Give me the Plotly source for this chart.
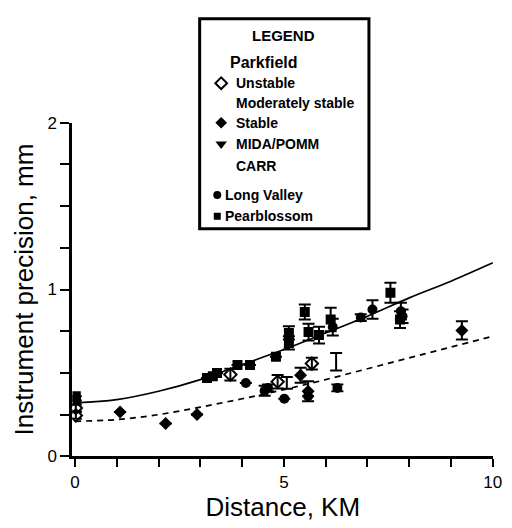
import plotly.graph_objects as go

# ---------------- data ----------------
curve_x = [0, 1, 2, 3, 4, 5, 6, 7, 8, 9, 10]
upper_curve = [0.32, 0.34, 0.39, 0.46, 0.55, 0.64, 0.74, 0.84, 0.95, 1.05, 1.16]
lower_curve = [0.21, 0.22, 0.25, 0.295, 0.345, 0.40, 0.46, 0.525, 0.59, 0.655, 0.72]

unstable_x = [0.02, 0.02, 3.72, 4.85, 5.67]
unstable_y = [0.29, 0.245, 0.49, 0.447, 0.556]
unstable_err = [0.02, 0.02, 0.035, 0.04, 0.035]

moderate_x = [5.07, 6.25]
moderate_y = [0.44, 0.567]
moderate_err = [0.035, 0.053]

stable_x = [1.08, 2.17, 2.92, 5.40, 5.58, 9.26]
stable_y = [0.266, 0.197, 0.25, 0.486, 0.39, 0.755]
stable_err = [0, 0, 0, 0.045, 0.06, 0.055]

mida_x = []
mida_y = []
carr_x = []
carr_y = []

longvalley_x = [4.09, 4.54, 4.62, 5.01, 5.58, 6.17, 6.28, 6.84, 7.12, 7.80, 7.84]
longvalley_y = [0.44, 0.393, 0.41, 0.345, 0.36, 0.775, 0.41, 0.832, 0.88, 0.87, 0.84]
longvalley_err = [0, 0.03, 0.02, 0, 0, 0.05, 0.02, 0.02, 0.055, 0.05, 0.04]

pearblossom_x = [0.02, 0.02, 3.16, 3.30, 3.40, 3.89, 4.19, 4.81, 5.12, 5.12,
                 5.50, 5.59, 5.84, 6.12, 7.55, 7.78]
pearblossom_y = [0.335, 0.36, 0.47, 0.48, 0.50, 0.547, 0.547, 0.597, 0.68, 0.74,
                 0.865, 0.745, 0.727, 0.82, 0.98, 0.82]
pearblossom_err = [0, 0, 0, 0, 0, 0, 0, 0, 0.04, 0.04,
                   0.045, 0.05, 0.05, 0.07, 0.06, 0.05]

legend_title = "LEGEND"
legend_group = "Parkfield"
legend_labels = ["Unstable", "Moderately stable", "Stable", "MIDA/POMM", "CARR",
                 "Long Valley", "Pearblossom"]

x_ticks = [0, 5, 10]
y_ticks = [0, 1, 2]

# ---------------- figure ----------------
W, H = 512, 528
FONT = "Liberation Sans, Arial, Helvetica, sans-serif"
fig = go.Figure()


def err(a):
    return dict(type="data", array=a, color="black", thickness=2, width=6, visible=True)


fig.add_trace(go.Scatter(x=curve_x, y=upper_curve, mode="lines", line_shape="spline",
                         line=dict(color="black", width=1.7), hoverinfo="skip"))
fig.add_trace(go.Scatter(x=curve_x, y=lower_curve, mode="lines", line_shape="spline",
                         line=dict(color="black", width=1.7, dash="6px,5px"), hoverinfo="skip"))

fig.add_trace(go.Scatter(x=moderate_x, y=moderate_y, mode="markers", error_y=err(moderate_err),
                         marker=dict(size=2, color="rgba(0,0,0,0)")))
fig.add_trace(go.Scatter(x=stable_x, y=stable_y, mode="markers", error_y=err(stable_err),
                         marker=dict(symbol="diamond", size=10, color="black")))
fig.add_trace(go.Scatter(x=mida_x, y=mida_y, mode="markers",
                         marker=dict(symbol="triangle-down", size=10, color="black")))
fig.add_trace(go.Scatter(x=carr_x, y=carr_y, mode="markers",
                         marker=dict(size=2, color="rgba(0,0,0,0)")))
fig.add_trace(go.Scatter(x=longvalley_x, y=longvalley_y, mode="markers", error_y=err(longvalley_err),
                         marker=dict(symbol="circle", size=10, color="black")))
fig.add_trace(go.Scatter(x=pearblossom_x, y=pearblossom_y, mode="markers", error_y=err(pearblossom_err),
                         marker=dict(symbol="square", size=10, color="black")))
fig.add_trace(go.Scatter(x=unstable_x, y=unstable_y, mode="markers", error_y=err(unstable_err),
                         marker=dict(symbol="diamond-open", size=9.5, color="black",
                                     line=dict(width=2, color="black"))))

# ---------------- legend (drawn in a pixel overlay) ----------------
key_symbols = ["diamond-open", None, "diamond", "triangle-down", None, "circle", "square"]
key_sizes = [9, 0, 9, 10, 0, 8, 7]
key_rows = [77, 98, 118, 140, 163, 193, 215]
key_sym_x = [224, None, 224, 224, None, 220, 220]
key_text_x = [237, 237, 237, 237, 237, 226, 226]

for sym, size, row, sx in zip(key_symbols, key_sizes, key_rows, key_sym_x):
    if sym is None:
        continue
    fig.add_trace(go.Scatter(x=[sx], y=[row], xaxis="x2", yaxis="y2", mode="markers",
                             marker=dict(symbol=sym, size=size, color="black",
                                         line=dict(width=2 if "open" in sym else 0, color="black")),
                             hoverinfo="skip"))

fig.add_shape(type="rect", xref="x2", yref="y2", x0=202, x1=375, y0=10, y1=228,
              line=dict(color="black", width=3), fillcolor="rgba(0,0,0,0)")
fig.add_annotation(xref="x2", yref="y2", x=288, y=27, text="<b>" + legend_title + "</b>",
                   showarrow=False, xanchor="center", yanchor="middle",
                   font=dict(family=FONT, size=15, color="black"))
fig.add_annotation(xref="x2", yref="y2", x=231, y=55, text="<b>" + legend_group + "</b>",
                   showarrow=False, xanchor="left", yanchor="middle",
                   font=dict(family=FONT, size=16, color="black"))
for lab, row, tx in zip(legend_labels, key_rows, key_text_x):
    fig.add_annotation(xref="x2", yref="y2", x=tx, y=row, text="<b>" + lab + "</b>",
                       showarrow=False, xanchor="left", yanchor="middle",
                       font=dict(family=FONT, size=14, color="black"))

fig.update_layout(
    width=W, height=H, autosize=False,
    margin=dict(l=0, r=0, t=0, b=0),
    paper_bgcolor="white", plot_bgcolor="rgba(0,0,0,0)",
    showlegend=False,
    font=dict(family=FONT, color="black"),
    xaxis=dict(domain=[72 / W, 502 / W], range=[-0.06, 10.01],
               tickvals=x_ticks, ticks="outside", ticklen=8, tickwidth=2, tickcolor="black",
               minor=dict(dtick=1, ticks="outside", ticklen=8, tickwidth=2, tickcolor="black"),
               showline=True, linewidth=3, linecolor="black", showgrid=False, zeroline=False,
               tickfont=dict(family=FONT, size=17, color="black"),
               title=dict(text="Distance, KM", font=dict(family=FONT, size=26, color="black"),
                          standoff=4),
               anchor="y"),
    yaxis=dict(domain=[1 - 464 / H, 1 - 118 / H], range=[0, 2],
               tickvals=y_ticks, ticks="outside", ticklen=9, tickwidth=2, tickcolor="black",
               minor=dict(dtick=0.25, ticks="outside", ticklen=9, tickwidth=2, tickcolor="black"),
               showline=True, linewidth=3, linecolor="black", showgrid=False, zeroline=False,
               tickfont=dict(family=FONT, size=17, color="black"),
               title=dict(text="Instrument precision, mm", font=dict(family=FONT, size=26, color="black"),
                          standoff=7),
               anchor="x"),
    xaxis2=dict(domain=[0, 1], range=[0, W], visible=False, anchor="y2", fixedrange=True),
    yaxis2=dict(domain=[0, 1], range=[H, 0], visible=False, anchor="x2", fixedrange=True),
)

fig.write_html("out.html")
